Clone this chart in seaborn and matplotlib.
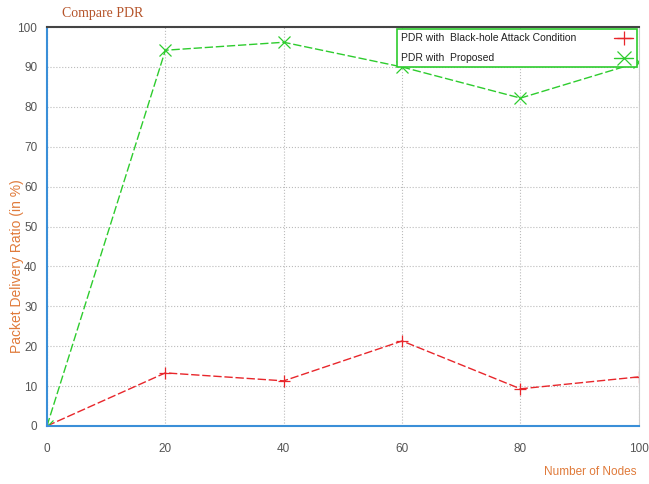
import pandas as pd
import matplotlib.pyplot as plt
import seaborn as sns

# --- Data
nodes = [0, 20, 40, 60, 80, 100]
pdr_blackhole = [0, 13.3, 11.3, 21.3, 9.3, 12.3]
pdr_proposed = [0, 94.2, 96.2, 90.0, 82.2, 91.2]
series_names = ["PDR with  Black-hole Attack Condition", "PDR with  Proposed"]
colors = ["#e8262b", "#2ecc2e"]

df = pd.DataFrame({
    "nodes": nodes * 2,
    "pdr": pdr_blackhole + pdr_proposed,
    "series": [series_names[0]] * len(nodes) + [series_names[1]] * len(nodes),
})

sns.set_style("white")
plt.rcParams['font.family'] = ['Liberation Sans', 'DejaVu Sans']

fig = plt.figure(figsize=(6.49, 4.84), dpi=100)
ax = fig.add_axes([0.0724, 0.12, 0.912, 0.824])

sns.lineplot(
    data=df, x="nodes", y="pdr", hue="series", style="series",
    palette=colors, markers=["+", "x"], dashes=[(6, 2), (6, 2)],
    markersize=8, linewidth=1.0, ax=ax,
)
# unfilled markers need their edge colour set to show up
for line in ax.lines:
    line.set_markeredgecolor(line.get_color())
    line.set_markeredgewidth(0.9)

ax.set_xlim(0, 100)
ax.set_ylim(0, 100)
ax.set_xticks(range(0, 101, 20))
ax.set_yticks(range(0, 101, 10))
ax.tick_params(axis="both", labelsize=8.5, colors="#555555", length=3, direction="in")
ax.tick_params(axis="x", pad=12)
ax.tick_params(axis="y", pad=7)
ax.grid(True, linestyle=":", color="#bbbbbb", linewidth=0.8)

for side in ["left", "bottom"]:
    ax.spines[side].set_color("#3a8fd8")
    ax.spines[side].set_linewidth(1.5)
ax.spines["top"].set_color("#444444")
ax.spines["top"].set_linewidth(1.5)
ax.spines["right"].set_color("#cccccc")

ax.set_xlabel("")
ax.set_ylabel("Packet Delivery Ratio (in %)", color="#e07a3a", fontsize=10)
ax.yaxis.set_label_coords(-0.038, 0.4)
fig.text(0.909, 0.018, "Number of Nodes", color="#e07a3a", fontsize=8.5, ha="center")
fig.text(0.095, 0.965, "Compare PDR", color="#b5542a", fontsize=10,
         family="Liberation Serif")

leg = ax.legend(loc="upper right", fontsize=7.5, frameon=True, fancybox=False,
                markerfirst=False, handlelength=1.8, borderaxespad=0.0,
                borderpad=0.4, labelspacing=0.95, labelcolor="#222222",
                bbox_to_anchor=(0.997, 0.995))
leg.get_frame().set_edgecolor("#2ecc2e")
leg.get_frame().set_linewidth(1.2)
leg.get_frame().set_alpha(1)
for h in leg.legend_handles:
    h.set_linestyle("-")
    h.set_markeredgecolor(h.get_color())
    h.set_markersize(10)
# stretch each legend row so text sits left and the handle sits right
for col in leg._legend_handle_box.get_children():
    for row in col.get_children():
        row.mode = "expand"
        row.width = 232

plt.savefig("out.png", dpi=100)
plt.close()
